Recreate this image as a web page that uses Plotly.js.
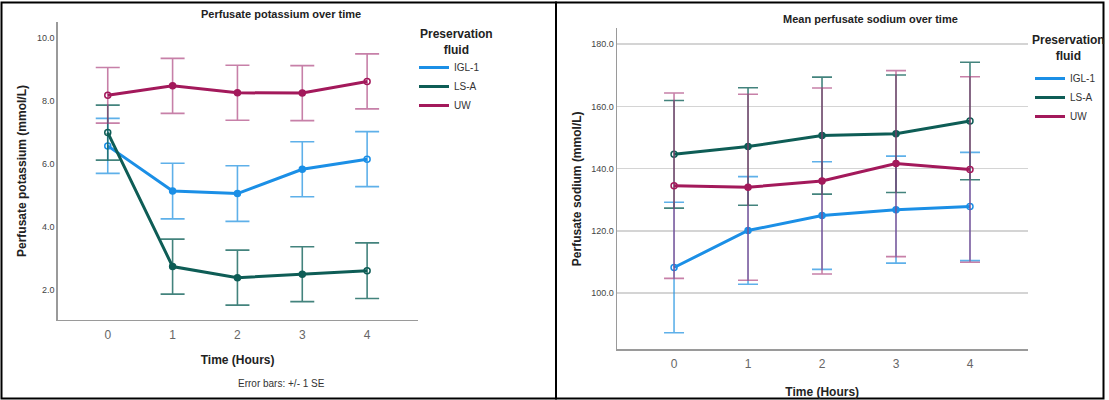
<!DOCTYPE html>
<html>
<head>
<meta charset="utf-8">
<script src="https://cdn.plot.ly/plotly-3.0.1.min.js"></script>
<style>
  html, body { margin: 0; padding: 0; background: #fff; }
  #chart { width: 1109px; height: 400px; }
</style>
</head>
<body>
<div id="chart"></div>
<script>
// Time points (hours) shared by both panels
const hours = [0, 1, 2, 3, 4];
const fluids = ['IGL-1', 'LS-A', 'UW'];

// Perfusate potassium, mmol/L (mean and standard error)
const kIGL1 = [6.57, 5.14, 5.06, 5.83, 6.15];
const kIGL1SE = [0.87, 0.88, 0.88, 0.87, 0.87];
const kLSA = [6.99, 2.75, 2.40, 2.51, 2.62];
const kLSASE = [0.87, 0.87, 0.87, 0.87, 0.88];
const kUW = [8.17, 8.47, 8.25, 8.24, 8.61];
const kUWSE = [0.88, 0.87, 0.87, 0.87, 0.87];

// Perfusate sodium, mmol/L (mean and standard error)
const naIGL1 = [108.2, 120.1, 124.9, 126.8, 127.8];
const naIGL1SE = [21.0, 17.3, 17.3, 17.2, 17.4];
const naLSA = [144.6, 147.1, 150.6, 151.2, 155.3];
const naLSASE = [17.3, 18.9, 18.8, 18.9, 18.9];
const naUW = [134.5, 134.0, 136.0, 141.6, 139.7];
const naUWSE = [29.8, 29.9, 29.9, 29.9, 29.8];

const W = 1109, H = 400;
const px = v => v / W;          // horizontal pixel -> paper
const py = v => 1 - v / H;      // vertical pixel -> paper

const lineColors = { 'IGL-1': '#1b8fe6', 'LS-A': '#0e5d56', 'UW': '#a3195b' };
const barColors = { 'IGL-1': 'rgba(40,150,225,0.75)', 'LS-A': 'rgba(20,100,92,0.8)', 'UW': 'rgba(165,50,115,0.62)' };
const pointSymbols = ['circle-open', 'circle', 'circle', 'circle', 'circle-open'];
const FONT = 'Liberation Sans, Arial, sans-serif';

function series(name, y, se, xa, ya, capWidth) {
  return {
    x: hours, y: y, name: name, xaxis: xa, yaxis: ya,
    type: 'scatter', mode: 'lines+markers', showlegend: false,
    line: { color: lineColors[name], width: 3 },
    marker: { color: lineColors[name], size: 6, symbol: pointSymbols, line: { color: lineColors[name], width: 1.5 } },
    error_y: { type: 'data', array: se, visible: true, color: barColors[name], thickness: 1.6, width: capWidth },
    hoverinfo: 'x+y+name'
  };
}

// Line-only legend entries
function key(name, xa, ya, legendId) {
  return {
    x: [null], y: [null], name: name, xaxis: xa, yaxis: ya, legend: legendId,
    type: 'scatter', mode: 'lines', showlegend: true,
    line: { color: lineColors[name], width: 3 }
  };
}

const kData = { 'IGL-1': [kIGL1, kIGL1SE], 'LS-A': [kLSA, kLSASE], 'UW': [kUW, kUWSE] };
const naData = { 'IGL-1': [naIGL1, naIGL1SE], 'LS-A': [naLSA, naLSASE], 'UW': [naUW, naUWSE] };

const traces = [];
fluids.forEach(f => traces.push(series(f, kData[f][0], kData[f][1], 'x', 'y', 12)));
fluids.forEach(f => traces.push(series(f, naData[f][0], naData[f][1], 'x2', 'y2', 10)));
fluids.forEach(f => traces.push(key(f, 'x', 'y', 'legend')));
fluids.forEach(f => traces.push(key(f, 'x2', 'y2', 'legend2')));

const xCommon = {
  range: [-0.775, 4.78], tickvals: hours, ticktext: hours.map(String),
  showgrid: false, zeroline: false, showline: true, linecolor: '#9a9a9a', linewidth: 1.2,
  ticks: '', tickfont: { family: FONT, size: 12, color: '#666' }, ticklabelstandoff: 3,
  fixedrange: true
};
const yCommon = {
  zeroline: false, showline: true, linecolor: '#9a9a9a', linewidth: 1.2,
  ticks: '', tickformat: '.1f', tickfont: { family: FONT, size: 9, color: '#444' },
  fixedrange: true
};

const legendCommon = {
  xanchor: 'left', yanchor: 'top', bgcolor: 'rgba(0,0,0,0)',
  font: { family: FONT, size: 10, color: '#333' },
  itemwidth: 30, tracegroupgap: 0
};

const legendTitleFont = { family: FONT, size: 12, color: '#222' };

const layout = {
  width: W, height: H,
  margin: { l: 0, r: 0, t: 0, b: 0 },
  paper_bgcolor: '#fff', plot_bgcolor: '#fff',
  font: { family: FONT, color: '#222' },
  xaxis: Object.assign({}, xCommon, {
    domain: [px(57.5), px(417.7)], anchor: 'y',
    title: { text: '<b>Time (Hours)</b>', font: { family: FONT, size: 12, color: '#222' }, standoff: 15 }
  }),
  yaxis: Object.assign({}, yCommon, {
    domain: [py(320), py(22)], anchor: 'x', range: [1.06, 10.49],
    tickvals: [2, 4, 6, 8, 10], showgrid: false,
    title: { text: '<b>Perfusate potassium (mmol/L)</b>', font: { family: FONT, size: 12, color: '#222' }, standoff: 7 }
  }),
  xaxis2: Object.assign({}, xCommon, {
    domain: [px(616.7), px(1027.7)], anchor: 'y2',
    title: { text: '<b>Time (Hours)</b>', font: { family: FONT, size: 12, color: '#222' }, standoff: 17 }
  }),
  yaxis2: Object.assign({}, yCommon, {
    domain: [py(349.3), py(28.3)], anchor: 'x2', range: [81.9, 185.1],
    tickvals: [100, 120, 140, 160, 180], showgrid: true, gridcolor: '#d4d4d4', gridwidth: 1.5,
    title: { text: '<b>Perfusate sodium (mmol/L)</b>', font: { family: FONT, size: 12, color: '#222' }, standoff: 7 }
  }),
  legend: Object.assign({}, legendCommon, { x: px(414), y: py(53) }),
  legend2: Object.assign({}, legendCommon, { x: px(1030), y: py(64) }),
  annotations: [
    { text: '<b>Perfusate potassium over time</b>', xref: 'paper', yref: 'paper', x: px(281), y: py(14),
      xanchor: 'center', yanchor: 'middle', showarrow: false, font: { family: FONT, size: 11, color: '#222' } },
    { text: '<b>Mean perfusate sodium over time</b>', xref: 'paper', yref: 'paper', x: px(870), y: py(19),
      xanchor: 'center', yanchor: 'middle', showarrow: false, font: { family: FONT, size: 11, color: '#222' } },
    { text: 'Error bars: +/- 1 SE', xref: 'paper', yref: 'paper', x: px(281), y: py(383),
      xanchor: 'center', yanchor: 'middle', showarrow: false, font: { family: FONT, size: 10, color: '#333' } },
    { text: '<b>Preservation<br>fluid</b>', xref: 'paper', yref: 'paper', x: px(456), y: py(41.5),
      xanchor: 'center', yanchor: 'middle', align: 'center', showarrow: false, font: legendTitleFont },
    { text: '<b>Preservation<br>fluid</b>', xref: 'paper', yref: 'paper', x: px(1068), y: py(48.5),
      xanchor: 'center', yanchor: 'middle', align: 'center', showarrow: false, font: legendTitleFont }
  ],
  shapes: [
    { type: 'rect', xref: 'paper', yref: 'paper', x0: px(1.5), x1: px(556), y0: py(398.5), y1: py(2.5),
      line: { color: '#000', width: 2 }, fillcolor: 'rgba(0,0,0,0)', layer: 'above' },
    { type: 'rect', xref: 'paper', yref: 'paper', x0: px(556), x1: px(1103.5), y0: py(398.5), y1: py(2.5),
      line: { color: '#000', width: 2 }, fillcolor: 'rgba(0,0,0,0)', layer: 'above' }
  ]
};

Plotly.newPlot('chart', traces, layout, { displayModeBar: false, staticPlot: true });
</script>
</body>
</html>
